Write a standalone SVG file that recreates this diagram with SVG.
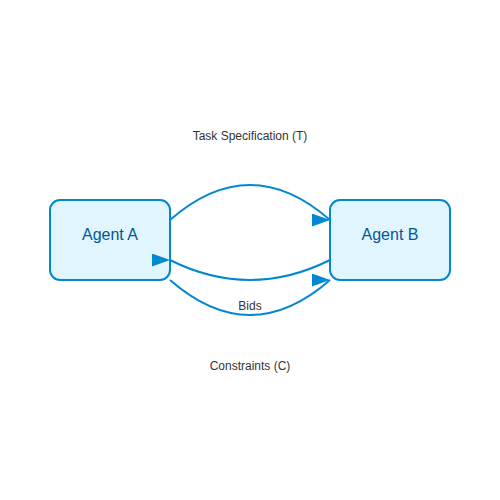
<svg xmlns="http://www.w3.org/2000/svg" width="500" height="500" viewBox="0 0 500 500">
<defs>
<style>
.node rect{fill:#e1f5fe;stroke:#0288d1;stroke-width:2}
.node text{font-family:"Liberation Sans",Arial,sans-serif;font-size:16px;fill:#01579b;text-anchor:middle}
.edge{fill:none;stroke:#0288d1;stroke-width:2;marker-end:url(#arrow)}
.lbl{font-family:"Liberation Sans",Arial,sans-serif;font-size:12px;fill:#333;text-anchor:middle}
</style>
<marker id="arrow" markerUnits="userSpaceOnUse" markerWidth="18" markerHeight="13" refX="18" refY="6.5" orient="0">
<path d="M0,0 L18,6.5 L0,13 Z" fill="#0288d1"/>
</marker>
</defs>
<rect width="500" height="500" fill="#fff"/>
<g id="agentA" class="node">
<rect x="50" y="200" width="120" height="80" rx="10"/>
<text x="110" y="240">Agent A</text>
</g>
<g id="agentB" class="node">
<rect x="330" y="200" width="120" height="80" rx="10"/>
<text x="390" y="240">Agent B</text>
</g>
<g id="connectors">
<path class="edge" d="M170,220 Q250,150 330,220"/>
<path class="edge" d="M330,260 Q250,300 170,260"/>
<path class="edge" d="M170,280 Q250,350 330,280"/>
<text class="lbl" x="250" y="140">Task Specification (T)</text>
<text class="lbl" x="250" y="310">Bids</text>
<text class="lbl" x="250" y="370">Constraints (C)</text>
</g>
</svg>
